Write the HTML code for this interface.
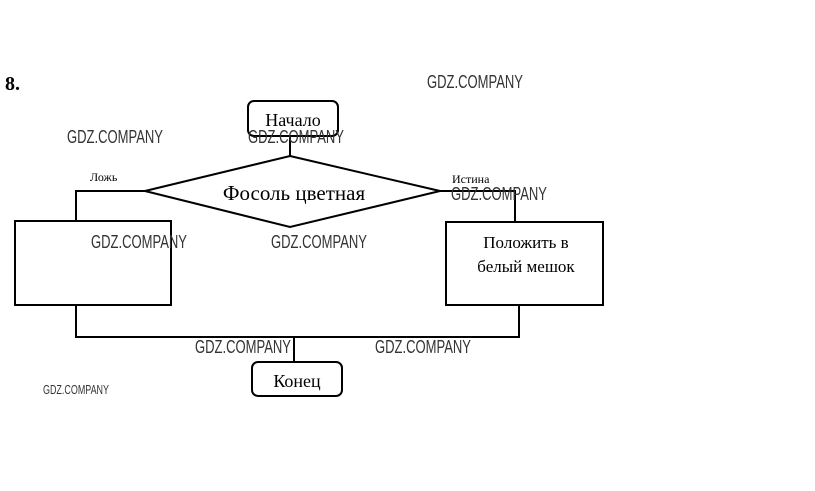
<!DOCTYPE html>
<html><head><meta charset="utf-8"><style>
html,body{margin:0;padding:0;background:#fff;width:815px;height:491px;overflow:hidden}
svg text{font-family:"Liberation Serif","Noto Serif CJK SC",serif}
svg text.w{font-family:"Liberation Sans Narrow","Liberation Sans",sans-serif;fill:#333;font-size:18px}
</style></head><body>
<svg width="815" height="491" viewBox="0 0 815 491" xmlns="http://www.w3.org/2000/svg">
<g fill="none" stroke="#000" stroke-width="2">
<rect x="248" y="101" width="90" height="35" rx="6"/>
<line x1="290" y1="136" x2="290" y2="156"/>
<polygon points="290,156 440,191 290,227 145,191"/>
<polyline points="145,191 76,191 76,221"/>
<rect x="15" y="221" width="156" height="84"/>
<polyline points="440,191 515,191 515,222"/>
<rect x="446" y="222" width="157" height="83"/>
<polyline points="76,305 76,337 519,337 519,305"/>
<line x1="294" y1="337" x2="294" y2="362"/>
<rect x="252" y="362" width="90" height="34" rx="6"/>
</g>
<text x="5" y="90" font-size="20" font-weight="bold">8.</text>
<text x="293" y="126" font-size="18" text-anchor="middle">Начало</text>
<text x="294" y="200" font-size="21" text-anchor="middle">Фосоль цветная</text>
<text x="90" y="181" font-size="12">Ложь</text>
<text x="452" y="183" font-size="12">Истина</text>
<text x="526" y="248" font-size="17" text-anchor="middle">Положить в</text>
<text x="526" y="272" font-size="17" text-anchor="middle">белый мешок</text>
<text x="297" y="387" font-size="18" text-anchor="middle">Конец</text>
<text class="w" x="427" y="88" textLength="96" lengthAdjust="spacingAndGlyphs">GDZ.COMPANY</text>
<text class="w" x="67" y="143" textLength="96" lengthAdjust="spacingAndGlyphs">GDZ.COMPANY</text>
<text class="w" x="248" y="143" textLength="96" lengthAdjust="spacingAndGlyphs">GDZ.COMPANY</text>
<text class="w" x="451" y="200" textLength="96" lengthAdjust="spacingAndGlyphs">GDZ.COMPANY</text>
<text class="w" x="91" y="248" textLength="96" lengthAdjust="spacingAndGlyphs">GDZ.COMPANY</text>
<text class="w" x="271" y="248" textLength="96" lengthAdjust="spacingAndGlyphs">GDZ.COMPANY</text>
<text class="w" x="195" y="353" textLength="96" lengthAdjust="spacingAndGlyphs">GDZ.COMPANY</text>
<text class="w" x="375" y="353" textLength="96" lengthAdjust="spacingAndGlyphs">GDZ.COMPANY</text>
<text class="w" x="43" y="394" style="font-size:13px" textLength="66" lengthAdjust="spacingAndGlyphs">GDZ.COMPANY</text>
</svg>
</body></html>
